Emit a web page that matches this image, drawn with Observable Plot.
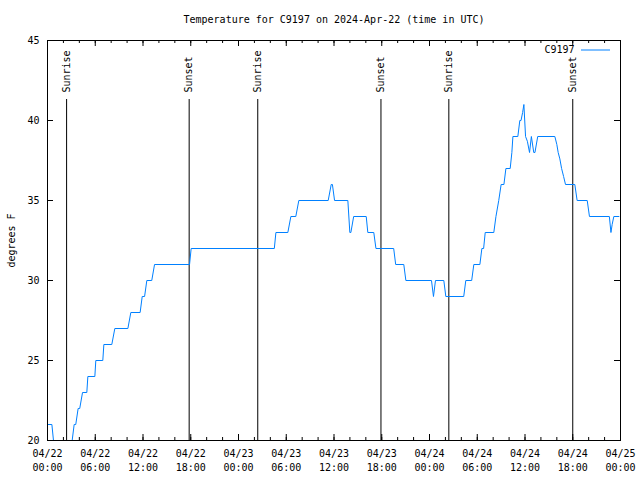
<!DOCTYPE html>
<html>
<head>
<meta charset="utf-8">
<script src="https://cdn.jsdelivr.net/npm/d3@7"></script>
<script src="https://cdn.jsdelivr.net/npm/@observablehq/plot@0.6"></script>
<style>
  html, body { margin: 0; padding: 0; background: #fff; }
</style>
</head>
<body>
<div id="chart"></div>
<script>
// ---- Data (hours after 2024-04-22 00:00 UTC) ----
const chartTitle = "Temperature for C9197 on 2024-Apr-22 (time in UTC)";
const seriesName = "C9197";
const yLabel = "degrees F";

const hours = [0, 0.55, 0.75, 0.95, 2.9, 3.1, 3.35, 3.55, 3.85, 4.05, 4.4, 4.94, 5.07, 5.95, 6.07,
  6.95, 7.08, 8.08, 8.46, 10.1, 10.47, 11.64, 11.9, 12.2, 12.48, 13.1, 13.45, 17.85, 18.05,
  28.5, 28.7, 30.2, 30.58, 31.2, 31.58, 35.27, 35.65, 35.8, 36.07, 37.74, 37.99, 38.12, 38.47,
  40.05, 40.25, 41.0, 41.27, 43.5, 43.75, 44.77, 45.03, 48.25, 48.5, 48.75, 49.8, 50.05,
  52.3, 52.56, 53.3, 53.57, 54.33, 54.58, 54.8, 55.0, 56.08, 56.35, 56.7, 57.0, 57.35, 57.6,
  58.14, 58.35, 58.48, 59.1, 59.35, 59.5, 59.7, 59.86, 60.07, 60.3, 60.57, 60.8, 61.1, 61.25,
  61.6, 63.75, 64.0, 64.17, 64.38, 64.6, 64.85, 65.09, 66.26, 66.55, 67.82, 68.1, 70.6, 70.8,
  70.95, 71.16, 71.8];
const tempF = [21, 21, 20, 19, 19, 20, 21, 21, 22, 22, 23, 23, 24, 24, 25,
  25, 26, 26, 27, 27, 28, 28, 29, 29, 30, 30, 31, 31, 32,
  32, 33, 33, 34, 34, 35, 35, 36, 36, 35, 35, 33, 33, 34,
  34, 33, 33, 32, 32, 31, 31, 30, 30, 29, 30, 30, 29,
  29, 30, 30, 31, 31, 32, 32, 33, 33, 34, 35, 36, 36, 37,
  37, 38, 39, 39, 40, 40, 40.5, 41, 39, 38.7, 38, 39, 38, 38,
  39, 39, 38.5, 38, 37.6, 37, 36.5, 36, 36, 35, 35, 34, 34, 33,
  33.5, 34, 34];

const eventHours = [2.4, 17.8, 26.42, 41.9, 50.43, 66.0];
const eventLabels = ["Sunrise", "Sunset", "Sunrise", "Sunset", "Sunrise", "Sunset"];

const yTicks = [20, 25, 30, 35, 40, 45];
const xMajorHours = [0, 6, 12, 18, 24, 30, 36, 42, 48, 54, 60, 66, 72];
const xMinorHours = d3.range(0, 73, 2);

// ---- Build tables ----
const start = Date.UTC(2024, 3, 22);
const toDate = h => new Date(start + h * 3600e3);
const data = hours.map((h, i) => ({t: toDate(h), v: tempF[i]}));
const events = eventHours.map((h, i) => ({t: toDate(h), label: eventLabels[i]}));
const xMajor = xMajorHours.map(toDate);
const xMinor = xMinorHours.map(toDate);

const W = 640, H = 480, ML = 47, MR = 20, MT = 40, MB = 40;
const innerH = H - MT - MB, innerW = W - ML - MR;
const lineColor = "#0080ff";

const chart = Plot.plot({
  width: W, height: H,
  marginLeft: ML, marginRight: MR, marginTop: MT, marginBottom: MB,
  style: {fontFamily: "'DejaVu Sans Mono', monospace", fontSize: "10px", background: "#fff", color: "#000", overflow: "visible"},
  x: {type: "utc", domain: [toDate(0), toDate(72)]},
  y: {domain: [20, 45]},
  marks: [
    // tick marks on all four sides (inward)
    Plot.tickX(xMinor, {x: d => d, insetTop: innerH - 3, stroke: "#000"}),
    Plot.tickX(xMinor, {x: d => d, insetBottom: innerH - 3, stroke: "#000"}),
    Plot.tickX(xMajor, {x: d => d, insetTop: innerH - 6, stroke: "#000"}),
    Plot.tickX(xMajor, {x: d => d, insetBottom: innerH - 6, stroke: "#000"}),
    Plot.tickY(yTicks, {y: d => d, insetRight: innerW - 6, stroke: "#000"}),
    Plot.tickY(yTicks, {y: d => d, insetLeft: innerW - 6, stroke: "#000"}),
    // axis labels
    Plot.axisX(xMajor, {tickSize: 0, tickPadding: 9, tickFormat: d3.utcFormat("%m/%d"), label: null}),
    Plot.axisX(xMajor, {tickSize: 0, tickPadding: 23, tickFormat: d3.utcFormat("%H:%M"), label: null}),
    Plot.axisY(yTicks, {tickSize: 0, tickPadding: 8, label: yLabel, labelAnchor: "center", labelArrow: "none", labelOffset: 40}),
    // sunrise / sunset markers
    Plot.ruleX(events, {x: "t", insetTop: 59, stroke: "#000", strokeWidth: 1}),
    Plot.text(events, {x: "t", text: "label", rotate: -90, frameAnchor: "top", dy: 52, dx: 0, textAnchor: "start", lineAnchor: "middle", fill: "#000"}),
    // data
    Plot.line(data, {x: "t", y: "v", stroke: lineColor, strokeWidth: 1, clip: true}),
    // frame
    Plot.frame({stroke: "#000"}),
    // legend
    Plot.text([seriesName], {frameAnchor: "top-right", dx: -46, dy: 9, text: d => d, textAnchor: "end", lineAnchor: "middle", fill: "#000"}),
    Plot.tickY([45 - 9.5 / 16], {y: d => d, insetLeft: innerW - 39, insetRight: 10, stroke: lineColor}),
    // title
    Plot.text([chartTitle], {frameAnchor: "top", dy: -21, text: d => d, lineAnchor: "middle", fill: "#000"})
  ]
});
document.getElementById("chart").appendChild(chart);
</script>
</body>
</html>
